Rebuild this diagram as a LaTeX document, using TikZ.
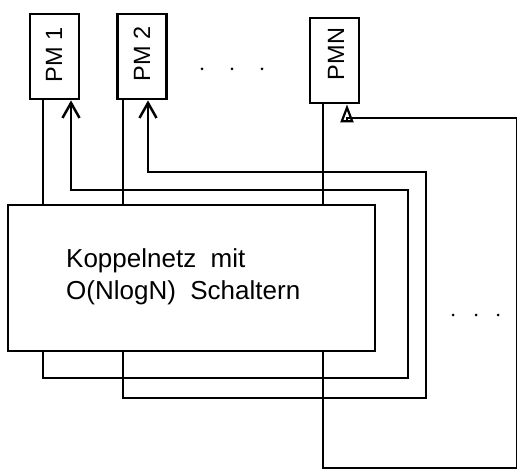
\documentclass[tikz,border=0pt]{standalone}
\usepackage{fontspec}
\setmainfont{Liberation Sans}
\usetikzlibrary{arrows.meta}
\begin{document}
\begin{tikzpicture}[x=1pt,y=-1pt,line join=miter,
  pm/.style={draw,line width=2.8pt,minimum width=49pt,minimum height=85pt,inner sep=0pt},
  lbl/.style={rotate=90,font=\fontsize{23.5}{23.5}\selectfont,inner sep=0pt},
  netbox/.style={draw,line width=2.8pt,minimum width=367pt,minimum height=146pt,inner sep=0pt},
  nettext/.style={font=\fontsize{26}{32}\selectfont,align=left,inner sep=0pt,anchor=west},
  wire/.style={line width=2.5pt},
  barbin/.style={-{Straight Barb[length=15pt,width=17pt]}},
  triin/.style={-{Triangle[open,length=18pt,width=13pt,line width=2.2pt]}},
  dotmark/.style={circle,fill,inner sep=0pt,minimum size=3pt}]
\useasboundingbox (0,0) rectangle (517,470);

% processor modules
\node[pm] (pm1) at (54.5,56.5) {};
\node[lbl] (l1) at (54,55) {PM 1};
\node[pm] (pm2) at (142,56.5) {};
\node[lbl] (l2) at (142,54) {PM 2};
\node[pm] (pmn) at (334.5,60.5) {};
\node[lbl] (ln) at (336,54) {PMN};

% network box
\node[netbox] (net) at (191.5,278) {};
\node[nettext] (nt) at (66,277) {Koppelnetz\ \ mit\\O(NlogN)\ \ Schaltern};

% dots
\node[dotmark] (d1) at (202,69) {};
\node[dotmark] (d2) at (232,69) {};
\node[dotmark] (d3) at (262,69) {};
\node[dotmark] (e1) at (453,315) {};
\node[dotmark] (e2) at (476,315) {};
\node[dotmark] (e3) at (498,315) {};

% bend coordinates
\coordinate (a1) at (43,378);
\coordinate (b1) at (408,378);
\coordinate (c1) at (408,190);
\coordinate (f1) at (71,190);
\coordinate (a2) at (123,398);
\coordinate (b2) at (426,398);
\coordinate (c2) at (426,172);
\coordinate (f2) at (148,172);
\coordinate (an) at (323,468);
\coordinate (bn) at (517,468);
\coordinate (cn) at (517,118);
\coordinate (fn) at (347,118);

% PM 1
\draw[wire] (pm1.south -| a1) -- (net.north -| a1);
\draw[wire,barbin] (net.south -| a1) -- (a1) -- (b1) -- (c1) -- (f1) -- (pm1.south -| f1);
% PM 2
\draw[wire] (pm2.south -| a2) -- (net.north -| a2);
\draw[wire,barbin] (net.south -| a2) -- (a2) -- (b2) -- (c2) -- (f2) -- (pm2.south -| f2);
% PM N
\draw[wire] (pmn.south -| an) -- (net.north -| an);
\draw[wire,triin] (net.south -| an) -- (an) -- (bn) -- (cn) -- (fn) -- (pmn.south -| fn);
\end{tikzpicture}
\end{document}
